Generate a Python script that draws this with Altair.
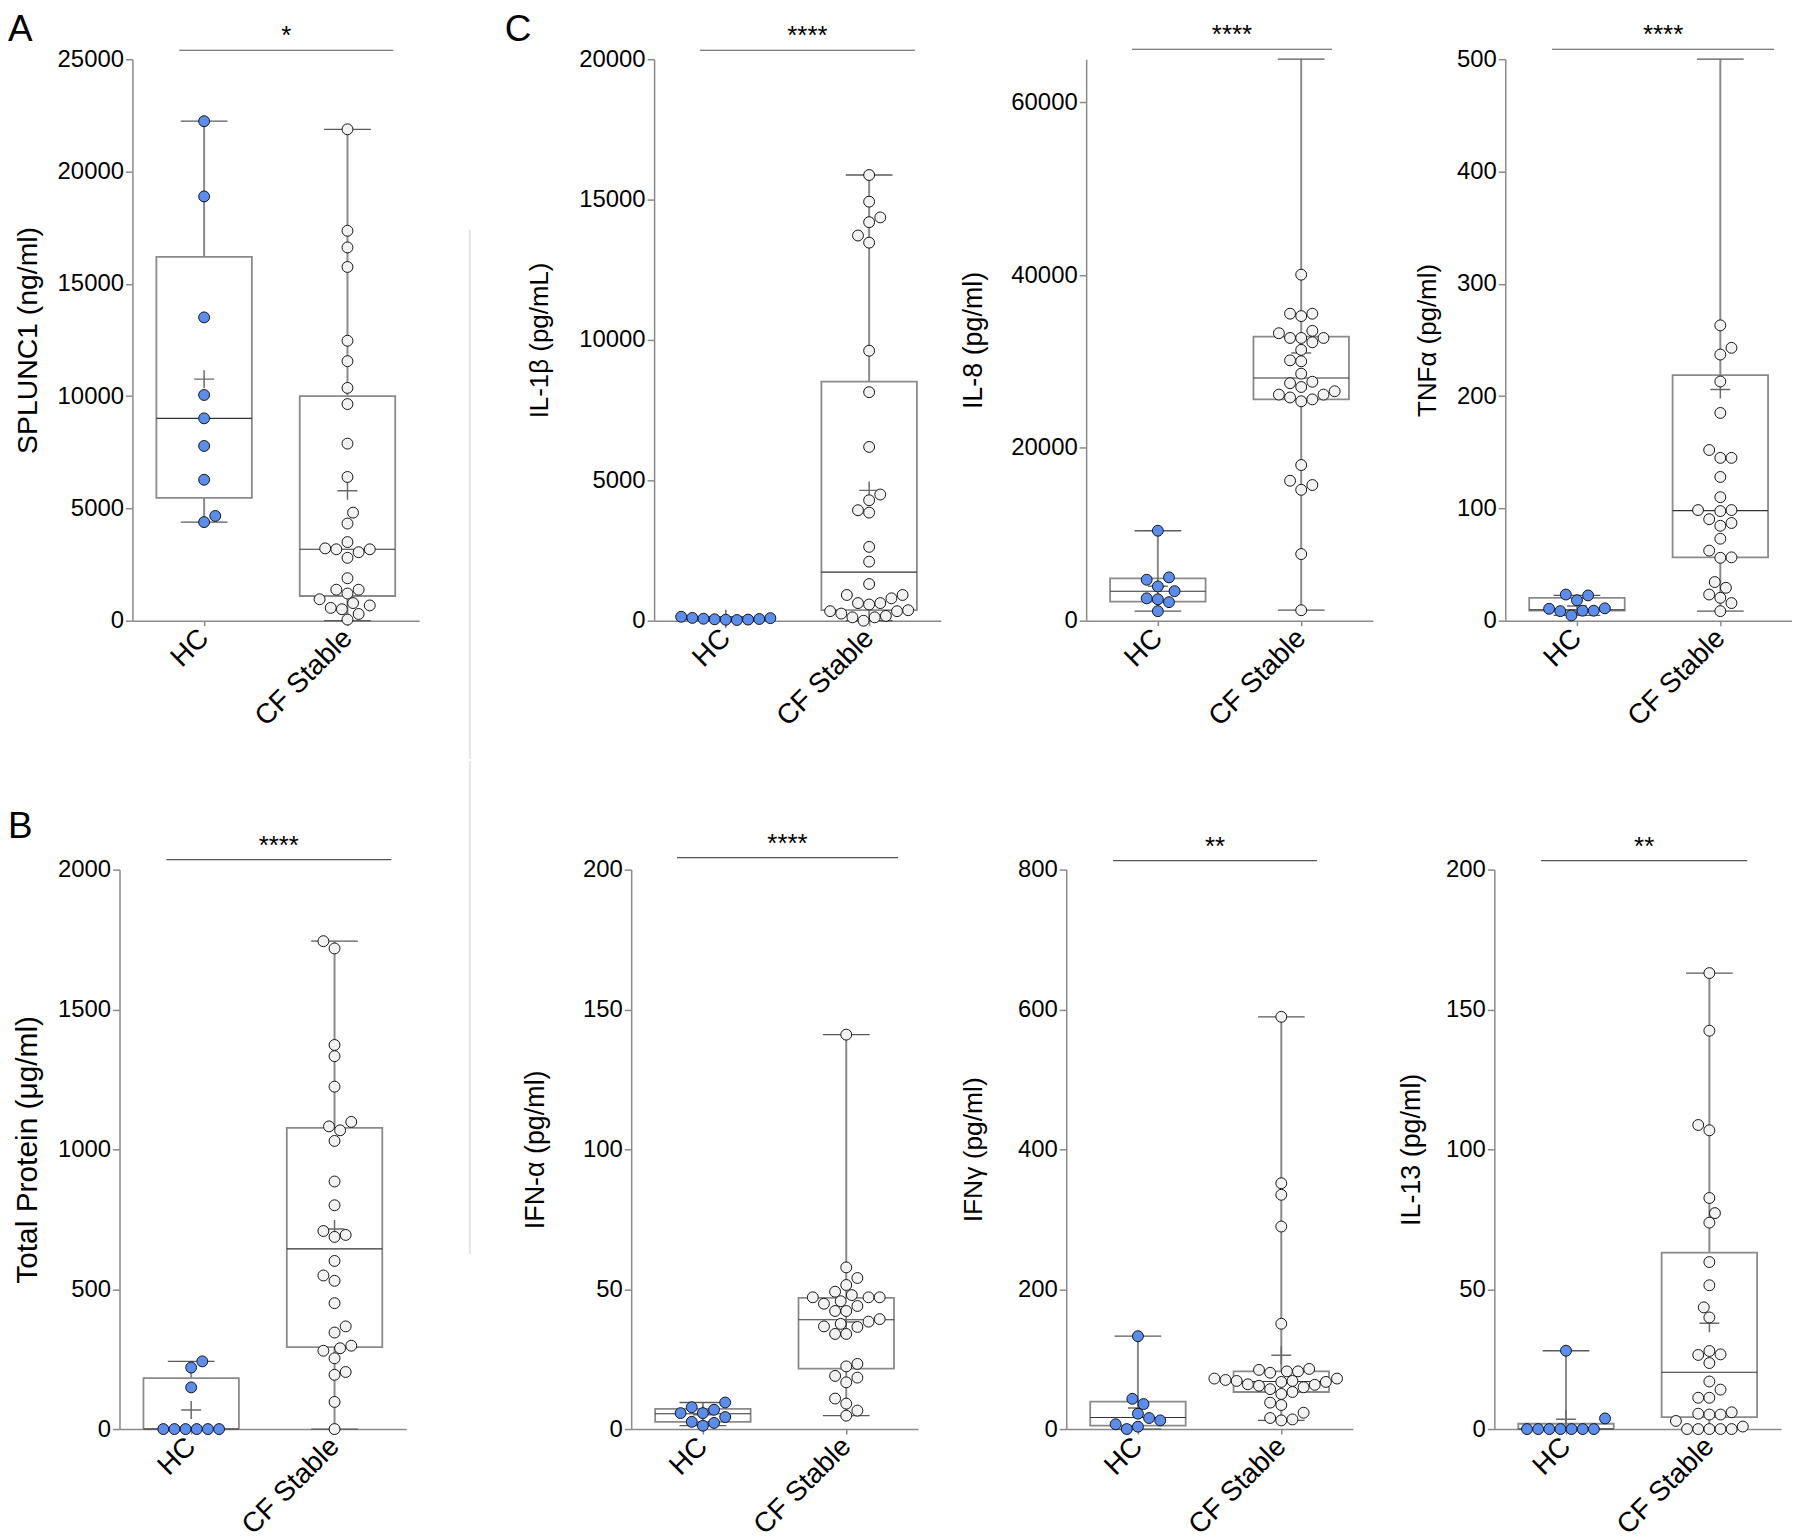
import altair as alt
import pandas as pd

# ------------------------------------------------------------------ data
groups = ["HC", "CF Stable"]
panel_letters = ["A", "B", "C"]
sig_labels = ["*", "****", "****", "****", "****", "****", "**", "**"]

# Panel A: SPLUNC1 (ng/ml)
splunc1_hc = [22240, 18890, 13505, 10050, 9010, 7780, 6275, 4665, 4390]
splunc1_cf = [21880, 17360, 16620, 15750, 12465, 11555, 10365, 9645, 7885, 6400,
              4810, 4325, 3500, 3220, 3180, 3180, 3050, 2800, 1890, 1380, 1380,
              1210, 955, 785, 570, 680, 510, 300, 50]
# box summaries: min, Q1, median, Q3, max, mean
splunc1_box_hc = [4390, 5470, 9010, 16200, 22240, 10756]
splunc1_box_cf = [0, 1100, 3180, 10000, 21880, 5783]

# Panel B: Total protein (ug/ml)
protein_hc = [242, 220, 149, 0, 0, 0, 0, 0, 0]
protein_cf = [1744, 1718, 1373, 1333, 1224, 1098, 1082, 1068, 1030, 885, 800, 708,
              694, 687, 601, 549, 530, 450, 367, 345, 298, 280, 289, 253, 194, 204,
              97, 0]
protein_box_hc = [0, 0, 0, 182, 242, 68]
protein_box_cf = [0, 293, 644, 1077, 1744, 715]

# Panel C: IL-1beta (pg/mL)
il1b_hc = [140, 100, 70, 50, 35, 25, 40, 60, 90]
il1b_cf = [15875, 14925, 14365, 14195, 13720, 13466, 9616, 8141, 6190, 4494, 4291,
           3935, 3850, 2629, 2103, 1306, 916, 797, 916, 627, 577, 627,
           339, 254, 119, 0, 119, 170, 339, 373]
il1b_box_hc = [25, 40, 60, 95, 140, 68]
il1b_box_cf = [0, 373, 1730, 8514, 15875, 4642]

# IL-8 (pg/ml)
il8_hc = [10414, 5014, 4739, 3967, 3416, 2480, 2590, 2149, 1102]
il8_cf = [40058, 35540, 35264, 35540, 33280, 33556, 32729, 32729, 32729, 32234,
          31352, 30140, 30030, 28597, 27495, 27660, 27054, 26173, 25842, 25401,
          25622, 26173, 26558, 18018, 16199, 15153, 15704, 7714, 1212]
il8_box_hc = [1102, 2204, 3416, 4904, 10414, 3986]
il8_box_cf = [1212, 25622, 28101, 32895, 65000, 31000]

# TNF-alpha (pg/ml)
tnf_hc = [22.5, 23.3, 18.2, 10.6, 8.5, 4.7, 8.9, 8.9, 11.0]
tnf_cf = [263, 243, 237, 213, 185, 152, 145, 145, 128, 110, 98.5, 97.6, 98.5, 90.4,
          87, 84.5, 73, 62.4, 56.4, 56, 34.4, 29.3, 23.3, 20.4, 15.7, 8.5]
tnf_box_hc = [4.7, 8.9, 9.8, 20.4, 22.5, 13.0]
tnf_box_cf = [8.5, 56.4, 98, 218.6, 500, 205.8]

# IFN-alpha (pg/ml)
ifna_hc = [9.5, 7.8, 6.9, 5.7, 5.7, 4.3, 2.6, 2.2, 1.2]
ifna_cf = [141, 57.8, 54, 51.5, 49.1, 47.9, 47.1, 47.1, 47.1, 45.7, 44.8, 44, 42.2,
           42.2, 39.3, 38.4, 37.6, 36.5, 36.7, 34, 34, 23.3, 22.4, 19, 18.4, 16.7,
           10.9, 9.1, 6.6, 4.8]
ifna_box_hc = [1.2, 2.6, 5.5, 7.2, 9.5, 5.1]
ifna_box_cf = [4.8, 21.6, 39.1, 46.9, 141, 38.3]

# IFN-gamma (pg/ml)
ifng_hc = [132.8, 43.3, 35.8, 22.0, 6.9, 0, 3.4, 15.8, 12.4]
ifng_cf = [589.5, 351.5, 335, 289.6, 150.6, 86, 84.6, 82.5, 80.5, 82.5, 72.2, 70.2,
           68.8, 72.2, 68.8, 67.4, 63.3, 61.9, 64, 67.4, 57.1, 53, 59.8, 50.2, 37.8,
           34.4, 23.4, 15.8, 12.4, 13.8]
ifng_box_hc = [0, 4.8, 16.5, 39.2, 132.8, 30.3]
ifng_box_cf = [12.4, 53, 68, 82.5, 589.5, 105.5]

# IL-13 (pg/ml)
il13_hc = [28, 0, 0, 0, 0, 0, 0, 0, 3.8]
il13_cf = [163, 142.4, 108.7, 106.8, 82.6, 77.2, 73.8, 59.7, 51.4, 43.5, 39.9, 27.9,
           26.7, 26.5, 23.6, 17, 14.1, 11.2, 11.2, 6, 5.2, 5.2, 5.5, 2.9, 0, 0, 0, 0,
           0, 0.9]
il13_box_hc = [0, 0, 0, 1.9, 28, 3.5]
il13_box_cf = [0, 4.3, 20.3, 63.1, 163, 37.8]

# ------------------------------------------------------------------ style
W = 288
HALF_BOX = 0.333
HALF_CAP = 0.163
BLUE = "#5A8DEE"
LIGHT = "#F2F2F2"
AX = "#8A8A8A"
FONT = "Liberation Sans"
CROSS = "M-1,0L1,0M0,-0.9L0,0.9"


def swarm(values, ymax, height, step=5.6, dist=11.0, row_tol=12.0):
    """Simple beeswarm layout in pixel space; returns horizontal pixel offsets."""
    n = len(values)
    ys = [v / ymax * height for v in values]
    offs = [None] * n
    placed = []
    order = sorted(range(n), key=lambda i: ys[i])
    ymin = ys[order[0]]
    row = [i for i in range(n) if ys[i] - ymin < row_tol]
    if len(row) >= 5:
        m = len(row)
        for k, i in enumerate(row):
            offs[i] = (k - (m - 1) / 2) * 2 * step
            placed.append((offs[i], ys[i]))
    flip = 1
    for i in order:
        if offs[i] is not None:
            continue
        y = ys[i]
        cands = [0]
        for j in range(1, 60):
            cands += [flip * j, -flip * j]
        x = 0
        c = 0
        for c in cands:
            x = c * step
            if all((x - px) ** 2 + (y - py) ** 2 >= dist ** 2 for px, py in placed):
                break
        if c != 0:
            flip = -flip
        offs[i] = x
        placed.append((x, y))
    return offs


def one(**kw):
    return pd.DataFrame({k: [v] for k, v in kw.items()})


def build_panel(spec):
    H = spec["height"]
    ymax = spec["ymax"]
    rows = []
    for gi, (g, vals) in enumerate(zip(groups, spec["values"])):
        offs = swarm(vals, ymax, H)
        for v, o in zip(vals, offs):
            rows.append({"group": g, "value": v, "xpos": gi + 0.5 + o / (W / 2)})
    pts = pd.DataFrame(rows)
    brow = []
    for gi, (g, b) in enumerate(zip(groups, spec["boxes"])):
        c = gi + 0.5
        brow.append({"group": g, "c": c, "lo": c - HALF_BOX, "hi": c + HALF_BOX,
                     "clo": c - HALF_CAP, "chi": c + HALF_CAP,
                     "min": b[0], "q1": b[1], "med": b[2], "q3": b[3],
                     "max": b[4], "mean": b[5]})
    box = pd.DataFrame(brow)

    xs = alt.Scale(domain=[0, 2], nice=False, zero=False)
    ysc = alt.Scale(domain=[0, ymax], nice=False, zero=True)

    x_axis = alt.Axis(values=[0.5, 1.5],
                      labelExpr=f"datum.value < 1 ? '{groups[0]}' : '{groups[1]}'",
                      title=None, grid=False, labelAngle=315, labelAlign="right",
                      labelBaseline="middle", labelFont=FONT, labelFontSize=28,
                      labelColor="black", labelPadding=8, tickSize=5, tickColor=AX,
                      tickWidth=1.5, domainColor=AX, domainWidth=1.5,
                      labelOverlap=False, labelFlush=False)
    y_axis = alt.Axis(values=spec["ticks"], format="d", title=spec["title"],
                      titleX=spec["titleX"], titleY=H / 2, titleAngle=270,
                      titleAlign="center", titleBaseline="bottom", titleFont=FONT,
                      titleFontSize=spec["titleSize"], titleFontWeight="normal",
                      titleColor="black", labelFont=FONT, labelFontSize=24,
                      labelColor="black", labelPadding=2, tickSize=7, tickColor=AX,
                      tickWidth=1.5, domainColor=AX, domainWidth=1.5, grid=False)

    def X(f):
        return alt.X(f, scale=xs, axis=x_axis)

    def Y(f):
        return alt.Y(f, scale=ysc, axis=y_axis)

    bb = alt.Chart(box)
    layers = [
        bb.mark_rule(color=AX, strokeWidth=2).encode(x=X("c:Q"), y=Y("min:Q"), y2="max:Q"),
        bb.mark_rule(color="#5a5a5a", strokeWidth=1.3).encode(x=X("clo:Q"), x2="chi:Q", y=Y("max:Q")),
        bb.mark_rule(color="#5a5a5a", strokeWidth=1.3).encode(x=X("clo:Q"), x2="chi:Q", y=Y("min:Q")),
        bb.mark_rect(fill="white", stroke=AX, strokeWidth=1.8).encode(
            x=X("lo:Q"), x2="hi:Q", y=Y("q1:Q"), y2="q3:Q"),
        bb.mark_rule(color="#333333", strokeWidth=1.1).encode(x=X("lo:Q"), x2="hi:Q", y=Y("med:Q")),
        bb.mark_point(shape=CROSS, filled=False, color="#6a6a6a", strokeWidth=1.5,
                      size=400, opacity=1).encode(x=X("c:Q"), y=Y("mean:Q")),
        alt.Chart(pts).mark_point(shape="circle", filled=True, size=120, opacity=1,
                                  stroke="#151515", strokeWidth=1).encode(
            x=X("xpos:Q"), y=Y("value:Q"),
            fill=alt.Fill("group:N", scale=alt.Scale(domain=groups, range=[BLUE, LIGHT]),
                          legend=None)),
    ]
    sx1, sx2, sy = spec["sig"]
    layers.append(alt.Chart(one(s=spec["stars"])).mark_rule(color="#555555", strokeWidth=1.2).encode(
        x=alt.value(sx1), x2=alt.value(sx2), y=alt.value(sy)))
    layers.append(alt.Chart(one(s=spec["stars"])).mark_text(
        font=FONT, fontSize=26, align="center", baseline="alphabetic", color="black").encode(
        text="s:N", x=alt.value((sx1 + sx2) / 2), y=alt.value(sy - 6)))
    if "letter" in spec:
        lt, lx, ly = spec["letter"]
        layers.append(alt.Chart(one(t=lt)).mark_text(
            font=FONT, fontSize=37, align="left", baseline="top", color="black").encode(
            text="t:N", x=alt.value(lx), y=alt.value(ly)))
    if "divider" in spec:
        dx, dy1, dy2 = spec["divider"]
        layers.append(alt.Chart(one(d=1)).mark_rule(color="#e4e4e4", strokeWidth=2,
                                                   strokeCap="square").encode(
            x=alt.value(dx), y=alt.value(dy1), y2=alt.value(dy2)))
    return alt.layer(*layers).properties(width=W, height=H)


def spacer(w):
    return alt.Chart(one(s=0)).mark_point(opacity=0).encode(
        x=alt.value(0), y=alt.value(0)).properties(width=w, height=10)


TOP_H = 564
BOT_H = 562

pA = build_panel(dict(values=[splunc1_hc, splunc1_cf], boxes=[splunc1_box_hc, splunc1_box_cf],
                      ymax=25000, ticks=[0, 5000, 10000, 15000, 20000, 25000], height=TOP_H,
                      title="SPLUNC1 (ng/ml)", titleX=-90, titleSize=28.5, stars=sig_labels[0],
                      sig=(47, 262, -9), letter=(panel_letters[0], -125, -47),
                      divider=(339, 172, 702)))
pIL1b = build_panel(dict(values=[il1b_hc, il1b_cf], boxes=[il1b_box_hc, il1b_box_cf],
                         ymax=20000, ticks=[0, 5000, 10000, 15000, 20000], height=TOP_H,
                         title="IL-1β (pg/mL)", titleX=-102, titleSize=26, stars=sig_labels[2],
                         sig=(46, 262, -9), letter=(panel_letters[2], -150, -47)))
pIL8 = build_panel(dict(values=[il8_hc, il8_cf], boxes=[il8_box_hc, il8_box_cf],
                        ymax=65000, ticks=[0, 20000, 40000, 60000], height=TOP_H,
                        title="IL-8 (pg/ml)", titleX=-99, titleSize=27, stars=sig_labels[3],
                        sig=(46, 247, -10)))
pTNF = build_panel(dict(values=[tnf_hc, tnf_cf], boxes=[tnf_box_hc, tnf_box_cf],
                        ymax=500, ticks=[0, 100, 200, 300, 400, 500], height=TOP_H,
                        title="TNFα (pg/ml)", titleX=-65, titleSize=26, stars=sig_labels[4],
                        sig=(47, 270, -10)))
pB = build_panel(dict(values=[protein_hc, protein_cf], boxes=[protein_box_hc, protein_box_cf],
                      ymax=2000, ticks=[0, 500, 1000, 1500, 2000], height=BOT_H,
                      title="Total Protein (μg/ml)", titleX=-77, titleSize=30, stars=sig_labels[1],
                      sig=(47, 273, -10), letter=(panel_letters[1], -112, -61),
                      divider=(352, -108, 385)))
pIFNa = build_panel(dict(values=[ifna_hc, ifna_cf], boxes=[ifna_box_hc, ifna_box_cf],
                         ymax=200, ticks=[0, 50, 100, 150, 200], height=BOT_H,
                         title="IFN-α (pg/ml)", titleX=-82, titleSize=27, stars=sig_labels[5],
                         sig=(46, 268, -12)))
pIFNg = build_panel(dict(values=[ifng_hc, ifng_cf], boxes=[ifng_box_hc, ifng_box_cf],
                         ymax=800, ticks=[0, 200, 400, 600, 800], height=BOT_H,
                         title="IFNγ (pg/ml)", titleX=-79, titleSize=26.5, stars=sig_labels[6],
                         sig=(47, 252, -9)))
pIL13 = build_panel(dict(values=[il13_hc, il13_cf], boxes=[il13_box_hc, il13_box_cf],
                         ymax=200, ticks=[0, 50, 100, 150, 200], height=BOT_H,
                         title="IL-13 (pg/ml)", titleX=-69, titleSize=27, stars=sig_labels[7],
                         sig=(47, 254, -9)))

top = alt.hconcat(spacer(13), pA, spacer(236), pIL1b, spacer(146), pIL8, spacer(133), pTNF,
                  spacing=0, bounds="flush")
bottom = alt.hconcat(pB, spacer(226), pIFNa, spacer(149), pIFNg, spacer(142), pIL13,
                     spacing=0, bounds="flush")

chart = alt.vconcat(top, bottom, spacing=0).properties(
    padding=0, background="white").configure_view(stroke=None)

chart.save("out.html", embed_options={"renderer": "svg", "actions": False})
